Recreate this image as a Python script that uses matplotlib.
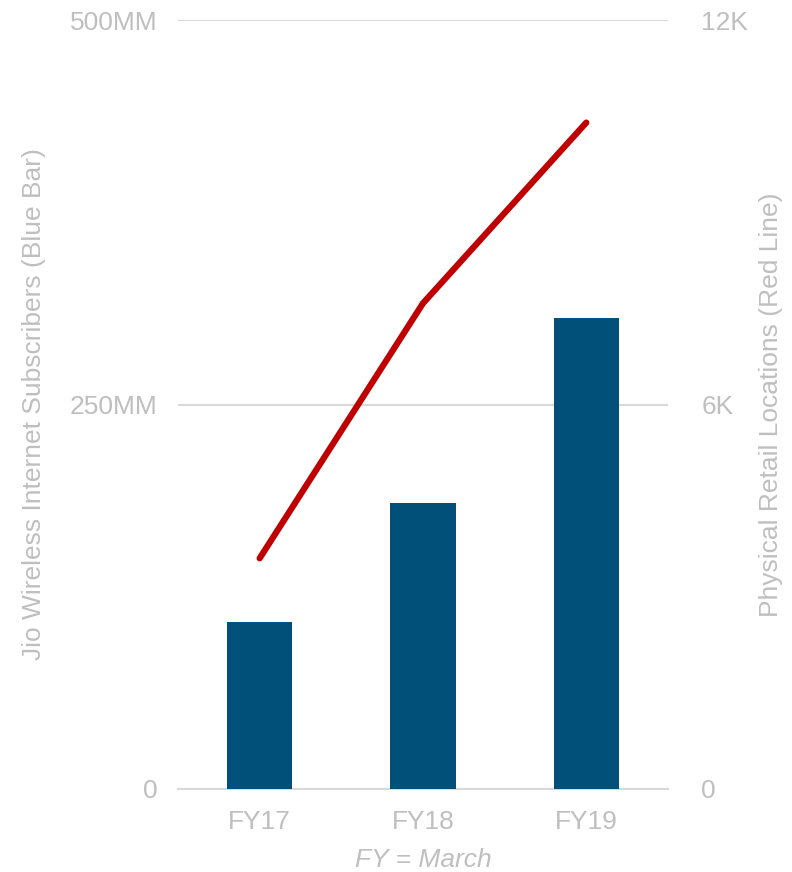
import matplotlib
matplotlib.use("Agg")
import matplotlib.pyplot as plt
from matplotlib.ticker import FixedLocator

plt.rcParams["font.family"] = ["Liberation Sans", "DejaVu Sans"]

# --- data --------------------------------------------------------------------
years = ["FY17", "FY18", "FY19"]
subscribers_mm = [108.6, 186.0, 306.5]       # blue bars, left axis (MM)
retail_locations = [3600, 7580, 10400]        # red line, right axis

left_ticks = [0, 250, 500]
left_labels = ["0", "250MM", "500MM"]
right_ticks = [0, 6000, 12000]
right_labels = ["0", "6K", "12K"]

TEXT = "#bfbfbf"
GRID = "#d9d9d9"
BLUE = "#00507a"
RED = "#c00000"
FS = 19

fig = plt.figure(figsize=(7.92, 8.72), dpi=100)
ax = fig.add_axes([0.2247, 0.0952, 0.6187, 0.8818])
x = list(range(len(years)))

ax.bar(x, subscribers_mm, width=0.4, color=BLUE, zorder=3)
ax.set_xlim(-0.5, 2.5)
ax.set_ylim(0, 500)
ax.yaxis.set_major_locator(FixedLocator(left_ticks))
ax.set_yticklabels(left_labels)
ax.set_xticks(x)
ax.set_xticklabels(years)
ax.grid(axis="y", color=GRID, linewidth=1.5, zorder=0)
ax.tick_params(axis="y", length=0, pad=15, labelsize=FS, labelcolor=TEXT)
ax.tick_params(axis="x", length=0, pad=15, labelsize=FS, labelcolor=TEXT)
for side in ["top", "right", "left"]:
    ax.spines[side].set_visible(False)
ax.spines["bottom"].set_color(GRID)
ax.spines["bottom"].set_linewidth(1.5)
ax.set_ylabel("Jio Wireless Internet Subscribers (Blue Bar)", fontsize=FS,
              color=TEXT, labelpad=17)
ax.set_xlabel("FY = March", fontsize=FS, color=TEXT, style="italic",
              labelpad=10)

ax2 = ax.twinx()
ax2.plot(x, retail_locations, color=RED, linewidth=4.5, solid_capstyle="round",
         zorder=4)
ax2.set_ylim(0, 12000)
ax2.yaxis.set_major_locator(FixedLocator(right_ticks))
ax2.set_yticklabels(right_labels)
ax2.tick_params(axis="y", length=0, pad=24, labelsize=FS, labelcolor=TEXT)
for side in ["top", "right", "left", "bottom"]:
    ax2.spines[side].set_visible(False)
ax2.set_ylabel("Physical Retail Locations (Red Line)", fontsize=FS,
               color=TEXT, labelpad=8)

fig.savefig("out.png", dpi=100)
